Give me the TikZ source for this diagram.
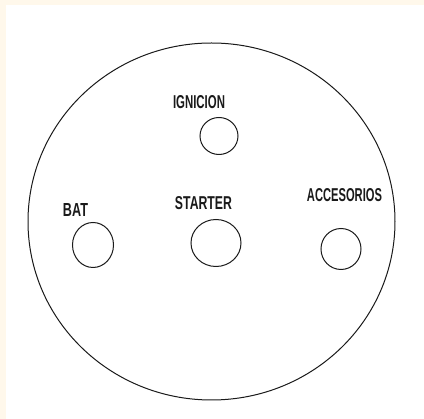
\documentclass[tikz,border=0pt]{standalone}
\usepackage{fontspec}
\setmainfont{Liberation Sans}
\usetikzlibrary{shapes.geometric}
\definecolor{cream}{HTML}{FFF8EB}
\definecolor{ink}{HTML}{1A1A1A}
\tikzset{
  terminal/.style={draw=ink, line width=1pt, ellipse, inner sep=0pt, outer sep=0pt},
  lbl/.style={inner sep=0pt, text=ink, font=\bfseries},
}
\begin{document}
\begin{tikzpicture}[x=1pt,y=-1pt]
\useasboundingbox (0,0) rectangle (424,419);
\fill[cream] (0,0) rectangle (424,419);
\fill[white] (6,5) rectangle (424,419);
% housing
\node[terminal, minimum width=367pt, minimum height=357pt] (housing) at (211.5,221.5) {};
% terminals
\node[terminal, minimum width=38pt, minimum height=37pt] (ign) at (219,136) {};
\node[terminal, minimum width=41pt, minimum height=45pt] (bat) at (93,245) {};
\node[terminal, minimum width=50pt, minimum height=47pt] (sta) at (216,243) {};
\node[terminal, minimum width=40pt, minimum height=41pt] (acc) at (341,249) {};
% labels
\node[lbl] (lign) at (199,102) {\resizebox{52pt}{13pt}{IGNICION}};
\node[lbl] (lbat) at (75.5,210.5) {\resizebox{25pt}{13pt}{BAT}};
\node[lbl] (lsta) at (203.5,203.5) {\resizebox{57pt}{13pt}{STARTER}};
\node[lbl] (lacc) at (344.5,195) {\resizebox{75pt}{13pt}{ACCESORIOS}};
\end{tikzpicture}
\end{document}
